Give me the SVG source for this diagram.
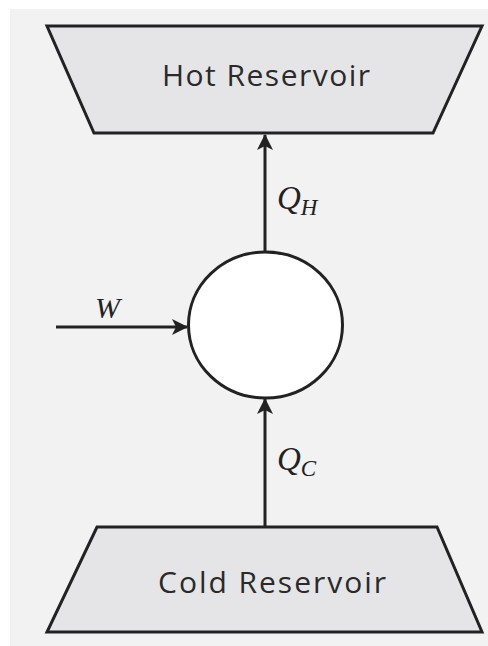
<svg xmlns="http://www.w3.org/2000/svg" width="488" height="646" viewBox="0 0 488 646">
<style>
.res{fill:#e5e5e7;stroke:#222;stroke-width:3;stroke-linejoin:miter}
.lbl{font-family:"Open Sans","Liberation Sans",sans-serif;font-size:30px;fill:#2a2a2a;text-anchor:middle}
.math{font-family:"Liberation Serif","DejaVu Serif",serif;font-style:italic;fill:#222}
.ln{stroke:#222;stroke-width:3;fill:none}
</style>
<defs>
<marker id="ah" viewBox="0 0 16 16" refX="15" refY="8" markerWidth="16" markerHeight="16" markerUnits="userSpaceOnUse" orient="auto">
<path d="M0,0 L16,8 L0,16 L4,8 Z" fill="#222"/>
</marker>
</defs>
<rect x="10" y="9" width="478" height="637" fill="#f2f2f2"/>
<g id="hot">
<polygon class="res" points="47,26 482,26 433,133 94,133"/>
<text class="lbl" x="266" y="86" textLength="208" lengthAdjust="spacing">Hot Reservoir</text>
</g>
<g id="engine">
<ellipse cx="265.5" cy="325" rx="77" ry="73" fill="#fff" stroke="#222" stroke-width="3"/>
</g>
<g id="cold">
<polygon class="res" points="97,527 437,527 482,632 47,632"/>
<text class="lbl" x="272" y="593" textLength="228" lengthAdjust="spacing">Cold Reservoir</text>
</g>
<g id="connectors">
<line class="ln" x1="265" y1="252" x2="265" y2="135" marker-end="url(#ah)"/>
<line class="ln" x1="265" y1="527" x2="265" y2="399" marker-end="url(#ah)"/>
<line class="ln" x1="56" y1="327" x2="187" y2="327" marker-end="url(#ah)"/>
</g>
<g id="labels">
<text class="math" x="277" y="209" font-size="33">Q<tspan font-size="23" dy="6">H</tspan></text>
<text class="math" x="277" y="470" font-size="33">Q<tspan font-size="23" dy="6">C</tspan></text>
<text class="math" x="95" y="318" font-size="30">W</text>
</g>
</svg>
